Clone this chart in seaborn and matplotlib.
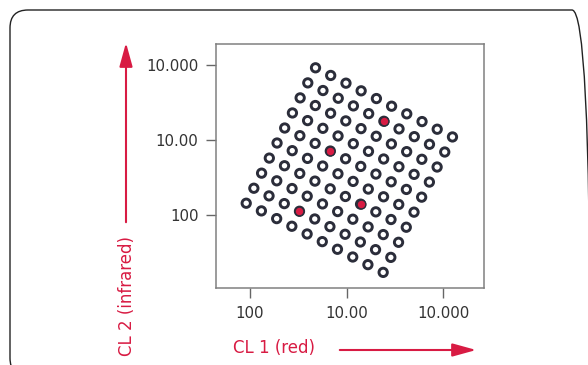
import numpy as np
import matplotlib
matplotlib.use("Agg")
import matplotlib.pyplot as plt
from matplotlib.patches import FancyBboxPatch, FancyArrowPatch
import seaborn as sns

# log10 intensities, one list per diagonal row of the spot grid
cl1_rows = [
    [2.678, 2.835, 2.993, 3.150, 3.308, 3.465, 3.622, 3.780, 3.937, 4.095],
    [2.598, 2.755, 2.913, 3.070, 3.228, 3.385, 3.542, 3.700, 3.857, 4.015],
    [2.519, 2.676, 2.834, 2.991, 3.149, 3.306, 3.463, 3.621, 3.778, 3.936],
    [2.439, 2.596, 2.754, 2.911, 3.069, 3.226, 3.383, 3.541, 3.698, 3.856],
    [2.359, 2.516, 2.674, 2.831, 2.989, 3.146, 3.303, 3.461, 3.618, 3.776],
    [2.280, 2.437, 2.595, 2.752, 2.910, 3.067, 3.224, 3.382, 3.539, 3.697],
    [2.200, 2.357, 2.515, 2.672, 2.830, 2.987, 3.144, 3.302, 3.459, 3.617],
    [2.120, 2.277, 2.435, 2.592, 2.750, 2.907, 3.064, 3.222, 3.379, 3.537],
    [2.040, 2.197, 2.355, 2.512, 2.670, 2.827, 2.984, 3.142, 3.299, 3.457],
    [1.961, 2.118, 2.276, 2.433, 2.591, 2.748, 2.905, 3.063, 3.220, 3.378],
]
cl2_rows = [
    [3.963, 3.861, 3.758, 3.656, 3.553, 3.451, 3.349, 3.246, 3.144, 3.041],
    [3.762, 3.660, 3.557, 3.455, 3.352, 3.250, 3.148, 3.045, 2.943, 2.840],
    [3.562, 3.460, 3.357, 3.255, 3.152, 3.050, 2.948, 2.845, 2.743, 2.640],
    [3.361, 3.259, 3.156, 3.054, 2.951, 2.849, 2.747, 2.644, 2.542, 2.439],
    [3.160, 3.058, 2.955, 2.853, 2.750, 2.648, 2.546, 2.443, 2.341, 2.238],
    [2.960, 2.858, 2.755, 2.653, 2.550, 2.448, 2.346, 2.243, 2.141, 2.038],
    [2.759, 2.657, 2.554, 2.452, 2.349, 2.247, 2.145, 2.042, 1.940, 1.837],
    [2.558, 2.456, 2.353, 2.251, 2.148, 2.046, 1.944, 1.841, 1.739, 1.636],
    [2.357, 2.255, 2.152, 2.050, 1.947, 1.845, 1.743, 1.640, 1.538, 1.435],
    [2.157, 2.055, 1.952, 1.850, 1.747, 1.645, 1.543, 1.440, 1.338, 1.235],
]

# the four highlighted (red) spots
red_cl1 = [3.385, 2.831, 3.144, 2.512]
red_cl2 = [3.250, 2.853, 2.145, 2.050]

tick_pos = [2, 3, 4]
tick_labels = ["100", "10.00", "10.000"]

RED = "#d81b43"
DARK = "#2b2d3a"

sns.set_theme(style="ticks")
plt.rcParams["font.family"] = ["DejaVu Sans"]

fig = plt.figure(figsize=(5.88, 3.65), dpi=100)
ax = fig.add_axes([0.3668, 0.2096, 0.4568, 0.6712])

grid_x = np.array(cl1_rows).ravel()
grid_y = np.array(cl2_rows).ravel()

sns.scatterplot(x=grid_x, y=grid_y, ax=ax, marker="o", s=36,
                facecolor="none", edgecolor=DARK, linewidth=2.1, zorder=3)
sns.scatterplot(x=red_cl1, y=red_cl2, ax=ax, marker="o", s=40,
                color=RED, edgecolor=DARK, linewidth=1.0, zorder=4)

ax.set_xlim(1.645, 4.424)
ax.set_ylim(1.02, 4.287)
ax.set_xticks(tick_pos)
ax.set_xticklabels(tick_labels)
ax.set_yticks(tick_pos)
ax.set_yticklabels(tick_labels)
ax.set_xlabel("")
ax.set_ylabel("")
ax.tick_params(axis="both", length=7.5, width=1.0, color="#666666",
               labelsize=10.8, labelcolor="#333333", pad=5)
for sp in ax.spines.values():
    sp.set_color("#808080")
    sp.set_linewidth(1.1)

# axis titles and arrows outside the plot
fig.text(274 / 588, 1 - 348 / 365, "CL 1 (red)", color=RED, fontsize=12,
         ha="center", va="center")
fig.text(127 / 588, 1 - 296 / 365, "CL 2 (infrared)", color=RED, fontsize=12,
         rotation=90, ha="center", va="center")

px = fig.dpi_scale_trans
fig.add_artist(FancyArrowPatch((3.37, 0.15), (4.79, 0.15), transform=px,
                               arrowstyle="-|>,head_length=1.45,head_width=0.4",
                               mutation_scale=10, color=RED, lw=1.5))
fig.add_artist(FancyArrowPatch((1.26, 1.40), (1.26, 3.25), transform=px,
                               arrowstyle="-|>,head_length=1.45,head_width=0.4",
                               mutation_scale=10, color=RED, lw=1.5))

# rounded outer frame, partly cut by the image border
fig.add_artist(FancyBboxPatch((0.10, -0.11), 5.80, 3.66, transform=px,
                              boxstyle="round,pad=0,rounding_size=0.18",
                              facecolor="none", edgecolor="#222222", lw=1.0))

fig.savefig("out.png", dpi=100)
